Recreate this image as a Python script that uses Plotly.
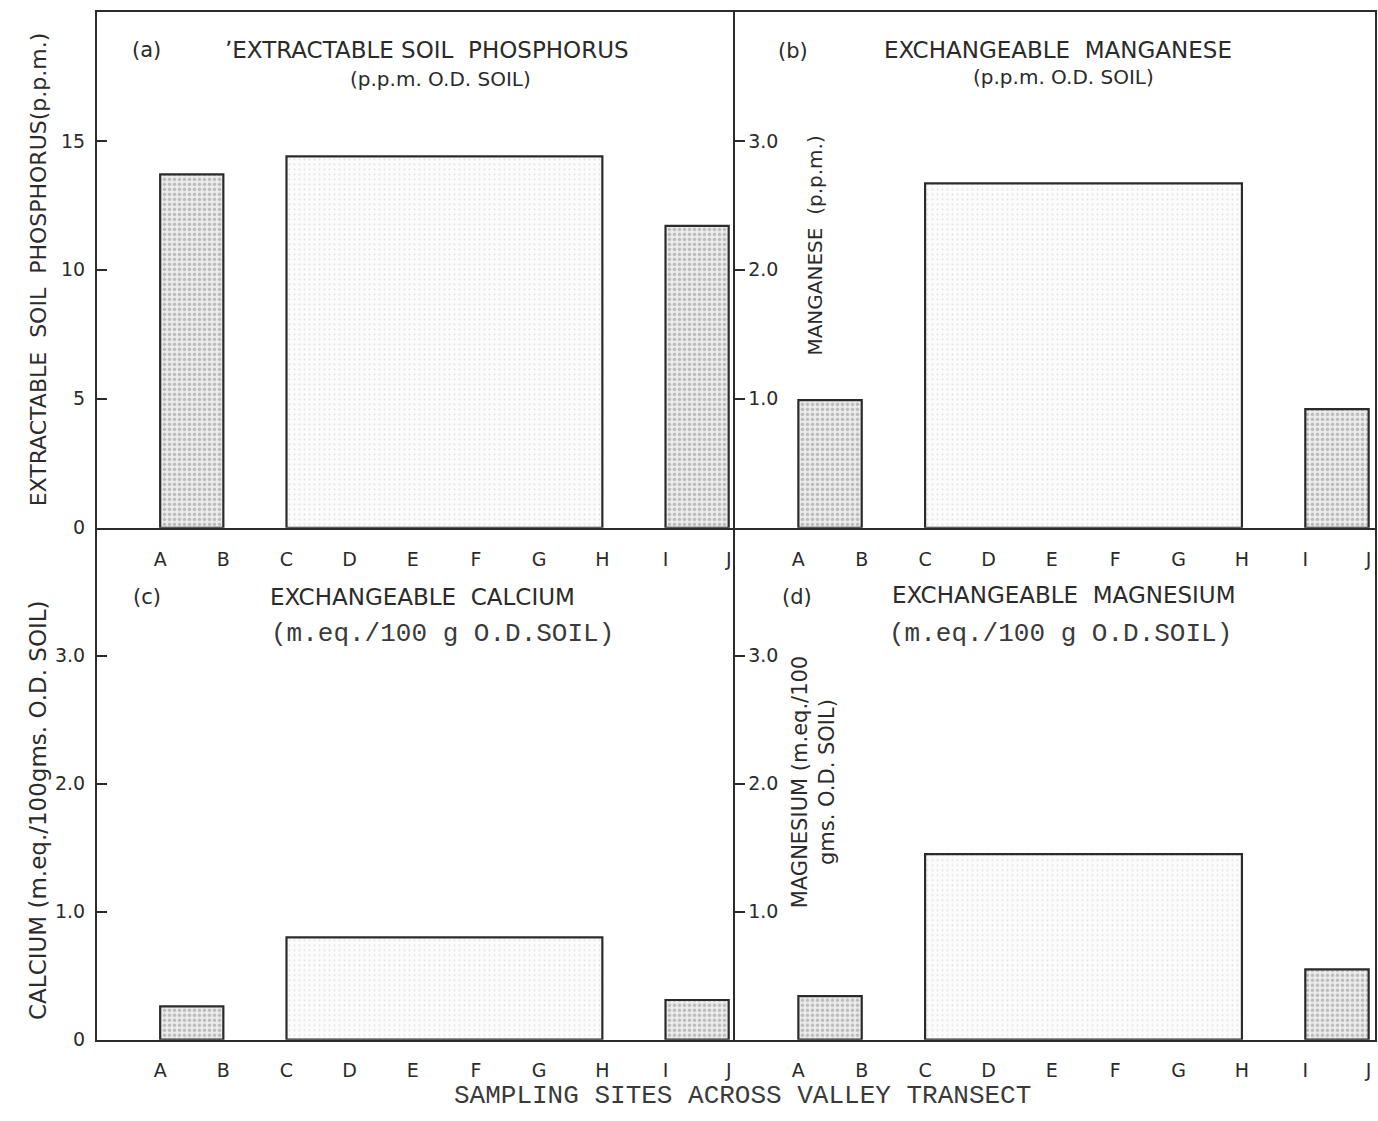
import plotly.graph_objects as go

# ---------------- data ----------------
sites = ["A", "B", "C", "D", "E", "F", "G", "H", "I", "J"]
group_start = ["A", "C", "I"]
group_end = ["B", "H", "J"]

phosphorus = [13.7, 14.4, 11.7]      # p.p.m.
manganese = [0.99, 2.67, 0.92]       # p.p.m.
calcium = [0.26, 0.80, 0.31]         # m.eq./100 g
magnesium = [0.34, 1.45, 0.55]       # m.eq./100 g

ticks_a = [0, 5, 10, 15]
ticks_b = [1.0, 2.0, 3.0]
ticks_c = [0, 1.0, 2.0, 3.0]
ticks_d = [1.0, 2.0, 3.0]

# ---------------- styling ----------------
W, H = 1378, 1121
INK = "#2b2b2b"
TYPE_INK = "#3a3a3a"
SANS = "DejaVu Sans"
MONO = "Liberation Mono"

def px(x):
    return x / W

def py(y):
    return 1 - y / H

pos = {s: i + 1 for i, s in enumerate(sites)}
centers = [(pos[a] + pos[b]) / 2 for a, b in zip(group_start, group_end)]
widths = [pos[b] - pos[a] for a, b in zip(group_start, group_end)]

xL = [px(97), px(735)]
xR = [px(735), px(1375)]
yT = [py(533), py(12)]
yB = [py(1050), py(533)]

fig = go.Figure()

def add_panel(k, values):
    xa = "x" if k == 1 else f"x{k}"
    ya = "y" if k == 1 else f"y{k}"
    colors_bg = ["#ececec", "#fcfcfc", "#ececec"]
    colors_fg = ["#8a8a8a", "#c4c4c4", "#8a8a8a"]
    sol = [0.4, 0.12, 0.4]
    for i in range(len(values)):
        fig.add_trace(go.Bar(
            x=[centers[i]], y=[values[i]], width=[widths[i]],
            xaxis=xa, yaxis=ya, showlegend=False,
            marker=dict(
                color=colors_bg[i],
                line=dict(color=INK, width=2.2),
                pattern=dict(shape=".", fgcolor=colors_fg[i], bgcolor=colors_bg[i],
                             size=5, solidity=sol[i]),
            ),
            hoverinfo="skip",
        ))

add_panel(1, phosphorus)
add_panel(2, manganese)
add_panel(3, calcium)
add_panel(4, magnesium)

tickfont = dict(family=SANS, size=19, color=INK)

def xaxis(dom, anchor, mirror):
    return dict(domain=dom, anchor=anchor, range=[0, 10.1],
                tickmode="array", tickvals=[pos[s] for s in sites], ticktext=sites,
                ticks="", showline=True, linecolor=INK, linewidth=2, mirror=mirror,
                showgrid=False, zeroline=False, tickfont=tickfont,
                ticklabelstandoff=13, fixedrange=True)

def yaxis(dom, anchor, rng, tv, inside, mirror):
    return dict(domain=dom, anchor=anchor, range=rng,
                tickmode="array", tickvals=tv,
                ticktext=[("%g" % v) if isinstance(v, int) else ("%.1f" % v) for v in tv],
                ticks="inside", ticklen=10, tickwidth=2, tickcolor=INK,
                ticklabelposition="inside" if inside else "outside",
                ticklabelstandoff=4 if inside else 6,
                showline=True, linecolor=INK, linewidth=2, mirror=mirror,
                showgrid=False, zeroline=False, tickfont=tickfont, fixedrange=True)

fig.update_layout(
    width=W, height=H, autosize=False,
    margin=dict(l=0, r=0, t=0, b=0),
    paper_bgcolor="white", plot_bgcolor="white",
    barmode="overlay",
    xaxis=xaxis(xL, "y", True), yaxis=yaxis(yT, "x", [0, 20], ticks_a, False, False),
    xaxis2=xaxis(xR, "y2", True), yaxis2=yaxis(yT, "x2", [0, 4], ticks_b, True, True),
    xaxis3=xaxis(xL, "y3", False), yaxis3=yaxis(yB, "x3", [0, 4], ticks_c, False, False),
    xaxis4=xaxis(xR, "y4", False), yaxis4=yaxis(yB, "x4", [0, 4], ticks_d, True, True),
)

NB = "\u00a0"

def ann(text, x, y, size=23, family=SANS, angle=0, color=INK):
    fig.add_annotation(text=text, x=px(x), y=py(y), xref="paper", yref="paper",
                       showarrow=False, textangle=angle, xanchor="center", yanchor="middle",
                       font=dict(family=family, size=size, color=color))

# panel (a)
ann("(a)", 146, 50, size=21)
ann("\u02bcEXTRACTABLE SOIL" + NB * 2 + "PHOSPHORUS", 427, 50)
ann("(p.p.m. O.D. SOIL)", 440, 80, size=20)
# panel (b)
ann("(b)", 793, 52, size=21)
ann("EXCHANGEABLE" + NB * 2 + "MANGANESE", 1058, 50)
ann("(p.p.m. O.D. SOIL)", 1063, 78, size=20)
# panel (c)
ann("(c)", 147, 603, size=21)
ann("EXCHANGEABLE" + NB * 2 + "CALCIUM", 422, 603)
ann("(m.eq./100 g O.D.SOIL)", 442, 640, size=26, family=MONO, color=TYPE_INK)
# panel (d)
ann("(d)", 797, 603, size=21)
ann("EXCHANGEABLE" + NB * 2 + "MAGNESIUM", 1064, 601)
ann("(m.eq./100 g O.D.SOIL)", 1060, 640, size=26, family=MONO, color=TYPE_INK)

# axis titles
ann("EXTRACTABLE" + NB * 2 + "SOIL" + NB * 2 + "PHOSPHORUS(p.p.m.)", 38, 272, size=22, angle=-90)
ann("MANGANESE" + NB * 2 + "(p.p.m.)", 815, 248, size=20, angle=-90)
ann("CALCIUM" + NB + "(m.eq./100gms." + NB + "O.D." + NB + "SOIL)", 38, 818, size=23, angle=-90)
ann("MAGNESIUM" + NB + "(m.eq./100<br>gms." + NB + "O.D." + NB + "SOIL)", 813, 790, size=21, angle=-90)
ann("SAMPLING" + NB + "SITES" + NB + "ACROSS" + NB + "VALLEY" + NB + "TRANSECT", 742, 1107,
    size=26, family=MONO, color=TYPE_INK)

fig.write_html("out.html")
